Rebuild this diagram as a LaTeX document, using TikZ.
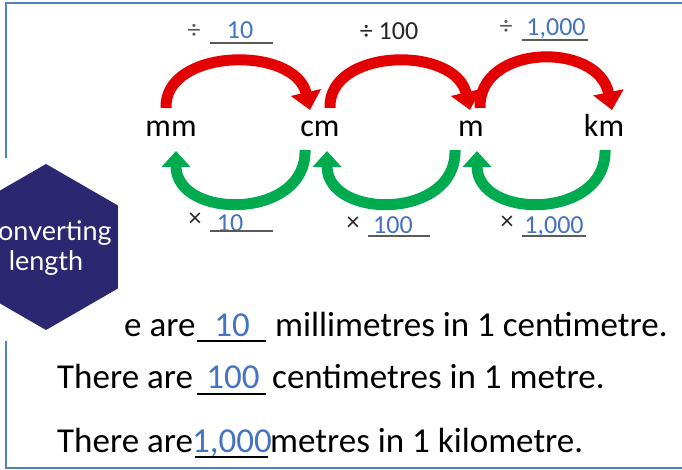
\documentclass[tikz,border=0pt]{standalone}
\usepackage{fontspec}
\setmainfont{Carlito}
\newfontfamily\hexfont{Lato}
\usetikzlibrary{arrows.meta}
\definecolor{frameblue}{RGB}{79,129,189}
\definecolor{ansblue}{RGB}{68,114,196}
\definecolor{lingrey}{RGB}{89,89,89}
\definecolor{hexnavy}{RGB}{43,39,112}
\definecolor{divred}{RGB}{226,0,0}
\definecolor{mulgreen}{RGB}{0,170,78}

\begin{document}
\begin{tikzpicture}[x=1pt,y=-1pt,
  unit/.style={font=\fontsize{32}{38}\selectfont, inner sep=0pt, anchor=base},
  op/.style={font=\fontsize{26}{30}\selectfont, inner sep=0pt, anchor=base},
  ans/.style={font=\fontsize{26}{30}\selectfont, text=ansblue, inner sep=0pt, anchor=base},
  sent/.style={font=\fontsize{35}{40}\selectfont, inner sep=0pt, anchor=base west},
  blank/.style={font=\fontsize{35}{40}\selectfont, text=ansblue, inner sep=0pt, anchor=base},
  divarrow/.style={divred, line width=11pt, -{Triangle[width=30pt,length=18pt]}},
  mularrow/.style={mulgreen, line width=11pt, -{Triangle[width=28pt,length=16pt]}}]
\useasboundingbox (0,0) rectangle (682,470);
\clip (0,0) rectangle (682,470);
%\draw[help lines,step=50] (0,0) grid (682,470);
\draw[frameblue, line width=2.5pt] (6,3) rectangle (700,468);

% sentences
\node[sent] (s1a) at (124,336) {e are};
\node[blank] (s1b) at (232,336) {10};
\draw[line width=2pt] (197,341) -- (266,341);
\node[sent] (s1c) at (275,336) {millimetres in 1 centimetre.};
\node[sent] (s2a) at (57,388) {There are};
\node[blank] (s2b) at (233,388) {100};
\draw[line width=2pt] (197,394) -- (266,394);
\node[sent] (s2c) at (272,388) {centimetres in 1 metre.};
\node[sent] (s3a) at (57,452) {There are};
\node[blank] (s3b) at (232,452) {1,000};
\draw[line width=2pt] (195,457) -- (268,457);
\node[sent] (s3c) at (270,452) {metres in 1 kilometre.};

% hexagon badge
\fill[white] (0,158) rectangle (121,341);
\fill[hexnavy] (46,164) -- (117.9,205.5) -- (117.9,288.5) -- (46,330) -- (-25.9,288.5) -- (-25.9,205.5) -- cycle;
\node[text=white, font=\hexfont\fontsize{27}{30}\selectfont, align=center] (hex) at (46,248) {Converting\\length};

% units
\node[unit] (mm) at (171,137) {mm};
\node[unit] (cm) at (320,137) {cm};
\node[unit] (m) at (471,137) {m};
\node[unit] (km) at (604,137) {km};

\coordinate (r1a) at (166,108);
\coordinate (r1b) at (310,110);
\coordinate (r2a) at (330,108);
\coordinate (r2b) at (470,110);
\coordinate (r3a) at (480,108);
\coordinate (r3b) at (612,110);
\draw[divarrow] (r1a) .. controls (164,48) and (295,45) .. (r1b);
\draw[divarrow] (r2a) .. controls (328,48) and (455,45) .. (r2b);
\draw[divarrow] (r3a) .. controls (478,44) and (598,41) .. (r3b);

\coordinate (g1a) at (305,150);
\coordinate (g1b) at (176,151);
\coordinate (g2a) at (455,150);
\coordinate (g2b) at (327,151);
\coordinate (g3a) at (605,150);
\coordinate (g3b) at (477,151);
\draw[mularrow] (g1a) .. controls (307,220) and (176,220) .. (g1b);
\draw[mularrow] (g2a) .. controls (457,220) and (327,220) .. (g2b);
\draw[mularrow] (g3a) .. controls (607,220) and (477,220) .. (g3b);

% divide labels
\node[op, text=lingrey] (d1) at (194,39) {÷};
\node[ans] (d1n) at (240,39) {10};
\draw[lingrey, line width=2pt] (210,43) -- (273,43);
\node[op, text=black!85] (d2) at (389,40) {÷ 100};
\node[op, text=lingrey] (d3) at (506,35) {÷};
\node[ans] (d3n) at (556,36) {1,000};
\draw[lingrey, line width=2pt] (522,40) -- (588,40);

% multiply labels
\node[op, text=black!85] (t1) at (195,227) {×};
\node[ans] (t1n) at (230,232) {10};
\draw[lingrey, line width=2pt] (210,231) -- (273,231);
\node[op, text=black!85] (t2) at (353,231) {×};
\node[ans] (t2n) at (393,234) {100};
\draw[lingrey, line width=2pt] (368,236) -- (430,236);
\node[op, text=black!85] (t3) at (507,230) {×};
\node[ans] (t3n) at (554,234) {1,000};
\draw[lingrey, line width=2pt] (522,236) -- (586,236);
\end{tikzpicture}
\end{document}
